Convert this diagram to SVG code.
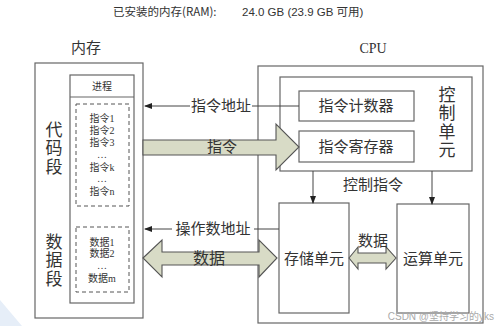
<svg xmlns="http://www.w3.org/2000/svg" width="499" height="326" viewBox="0 0 499 326">
<style>
.box{fill:#fff;stroke:#666;stroke-width:1.2}
.ln{stroke:#444;stroke-width:1;fill:none}
.fat{fill:#d8dbc6;stroke:#555;stroke-width:1.1}
.cjk{font-family:"Liberation Serif","Noto Sans CJK SC",serif;fill:#333}
.c15{font-size:15px}
.c10{font-size:10px}
.c17{font-size:17px}
.mid{text-anchor:middle;dominant-baseline:central}
.dash{fill:none;stroke:#555;stroke-width:1;stroke-dasharray:4 3}
</style>
<defs>
<marker id="ah" markerWidth="8" markerHeight="6" refX="7" refY="3" orient="auto" markerUnits="userSpaceOnUse">
<path d="M0,0 L8,3 L0,6 Z" fill="#222"/>
</marker>
</defs>
<rect width="499" height="326" fill="#fff"/>
<polygon points="0,300 22,326 0,326" fill="#e6eef8"/>
<g id="header">
<text x="113" y="16" font-family="'Noto Sans CJK SC','Liberation Sans',sans-serif" font-size="11.5" fill="#333">已安装的内存(RAM):</text>
<text x="242" y="16" font-family="'Liberation Sans','Noto Sans CJK SC',sans-serif" font-size="11.5" fill="#333">24.0 GB (23.9 GB 可用)</text>
</g>
<g id="memory">
<text x="86" y="48" class="cjk mid" font-size="15">内存</text>
<rect x="35" y="63" width="108" height="255" class="box"/>
<text class="cjk mid c17" x="54" y="130">代</text>
<text class="cjk mid c17" x="54" y="148">码</text>
<text class="cjk mid c17" x="54" y="167">段</text>
<text class="cjk mid c17" x="54" y="242">数</text>
<text class="cjk mid c17" x="54" y="260">据</text>
<text class="cjk mid c17" x="54" y="279">段</text>
</g>
<g id="process">
<rect x="70" y="75" width="64" height="228" class="box"/>
<line x1="70" y1="97" x2="134" y2="97" stroke="#666" stroke-width="1.2"/>
<text class="cjk mid c10" x="102" y="86">进程</text>
</g>
<g id="code-segment">
<rect x="76" y="104" width="53" height="102" class="dash"/>
<text class="cjk mid c10" x="102" y="118">指令1</text>
<text class="cjk mid c10" x="102" y="130">指令2</text>
<text class="cjk mid c10" x="102" y="142">指令3</text>
<text class="cjk mid c10" x="102" y="154">…</text>
<text class="cjk mid c10" x="102" y="167">指令k</text>
<text class="cjk mid c10" x="102" y="178">…</text>
<text class="cjk mid c10" x="102" y="191">指令n</text>
</g>
<g id="data-segment">
<rect x="76" y="227" width="53" height="65" class="dash"/>
<text class="cjk mid c10" x="102" y="242">数据1</text>
<text class="cjk mid c10" x="102" y="253">数据2</text>
<text class="cjk mid c10" x="102" y="265">…</text>
<text class="cjk mid c10" x="102" y="278">数据m</text>
</g>
<g id="cpu">
<text x="373" y="48" class="mid" font-family="'Liberation Serif',serif" font-size="14" fill="#333">CPU</text>
<rect x="258" y="66" width="225" height="257" class="box"/>
</g>
<g id="control-unit">
<rect x="280" y="77" width="192" height="94" class="box"/>
<text class="cjk mid c17" x="447" y="95">控</text>
<text class="cjk mid c17" x="447" y="113">制</text>
<text class="cjk mid c17" x="447" y="132">单</text>
<text class="cjk mid c17" x="447" y="150">元</text>
</g>
<g id="pc">
<rect x="299" y="91" width="115" height="30" class="box"/>
<text class="cjk mid c15" x="356" y="106">指令计数器</text>
</g>
<g id="ir">
<rect x="299" y="131" width="115" height="31" class="box"/>
<text class="cjk mid c15" x="356" y="147">指令寄存器</text>
</g>
<g id="storage-unit">
<rect x="279" y="203" width="70" height="110" class="box"/>
<text class="cjk mid c15" x="314" y="259">存储单元</text>
</g>
<g id="alu">
<rect x="397" y="204" width="72" height="109" class="box"/>
<text class="cjk mid c15" x="433" y="259">运算单元</text>
</g>
<g id="connectors">
<line x1="190" y1="106" x2="145" y2="106" class="ln" marker-end="url(#ah)"/>
<line x1="299" y1="106" x2="252" y2="106" class="ln"/>
<text class="cjk mid c15" x="221" y="106">指令地址</text>
<polygon class="fat" points="143,140 276,140 276,124 299,147 276,170 276,155 143,155"/>
<text class="cjk mid c15" x="222" y="147">指令</text>
<line x1="313" y1="171" x2="313" y2="203" class="ln" marker-end="url(#ah)"/>
<line x1="432" y1="171" x2="432" y2="204" class="ln" marker-end="url(#ah)"/>
<text class="cjk mid c15" x="373" y="185">控制指令</text>
<line x1="172" y1="229" x2="145" y2="229" class="ln" marker-end="url(#ah)"/>
<line x1="279" y1="229" x2="254" y2="229" class="ln"/>
<text class="cjk mid c15" x="213" y="229">操作数地址</text>
<polygon class="fat" points="143,258 162,240 162,252 259,252 259,240 277,258 259,277 259,265 162,265 162,277"/>
<text class="cjk mid" x="209" y="258" font-size="16">数据</text>
<polygon class="fat" points="349,258 358,247 358,253 386,253 386,247 396,258 386,269 386,263 358,263 358,269"/>
<text class="cjk mid c15" x="373" y="241">数据</text>
</g>
<text x="494" y="320" text-anchor="end" font-family="'Liberation Sans','Noto Sans CJK SC',sans-serif" font-size="10" fill="#aaa">CSDN @坚持学习的yks</text>
</svg>
